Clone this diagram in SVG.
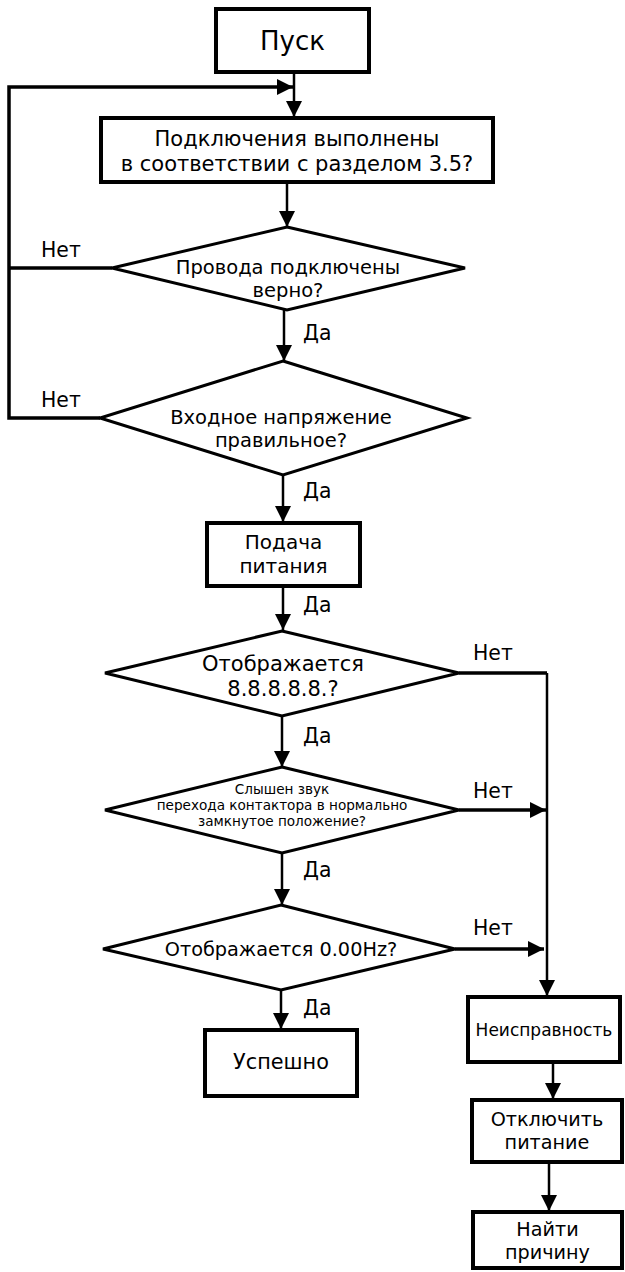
<svg xmlns="http://www.w3.org/2000/svg" width="625" height="1272" viewBox="0 0 625 1272">
<style>
.box{fill:#fff;stroke:#000;stroke-width:4}
.dia{fill:#fff;stroke:#000;stroke-width:3}
.t{font-family:"DejaVu Sans","Noto Sans",sans-serif;fill:#000;text-anchor:middle;font-size:19.5px}
.lbl{font-family:"DejaVu Sans","Noto Sans",sans-serif;fill:#000;font-size:20.4px}
.c{fill:none;stroke:#000;stroke-width:2.5}
.cb{fill:none;stroke:#000;stroke-width:3.5}
</style>
<defs>
<marker id="ah" markerWidth="16" markerHeight="16" refX="16" refY="8" orient="auto" markerUnits="userSpaceOnUse"><path d="M0,0 L16,8 L0,16 z" fill="#000"/></marker>
</defs>
<g id="connectors">
<path class="c" d="M294,73 V117" marker-end="url(#ah)"/>
<path class="cb" d="M112,268 H9"/>
<path class="cb" d="M100,418 H9 V87 H293" marker-end="url(#ah)"/>
<path class="c" d="M287,183 V227" marker-end="url(#ah)"/>
<path class="c" d="M284,310 V361" marker-end="url(#ah)"/>
<path class="c" d="M283,475 V522" marker-end="url(#ah)"/>
<path class="c" d="M283,587 V630" marker-end="url(#ah)"/>
<path class="c" d="M282,716 V767" marker-end="url(#ah)"/>
<path class="c" d="M282,853 V905" marker-end="url(#ah)"/>
<path class="c" d="M281,990 V1029" marker-end="url(#ah)"/>
<path class="cb" d="M459,673 H547"/>
<path class="c" d="M547,673 V996" marker-end="url(#ah)"/>
<path class="cb" d="M459,810 H546" marker-end="url(#ah)"/>
<path class="cb" d="M455,949 H544" marker-end="url(#ah)"/>
<path class="c" d="M553,1063 V1099" marker-end="url(#ah)"/>
<path class="c" d="M549,1162 V1211" marker-end="url(#ah)"/>
<text class="lbl" x="41" y="257">Нет</text>
<text class="lbl" x="41" y="407">Нет</text>
<text class="lbl" x="303" y="340">Да</text>
<text class="lbl" x="303" y="498">Да</text>
<text class="lbl" x="303" y="612">Да</text>
<text class="lbl" x="303" y="743">Да</text>
<text class="lbl" x="303" y="877">Да</text>
<text class="lbl" x="303" y="1015">Да</text>
<text class="lbl" x="473" y="660">Нет</text>
<text class="lbl" x="473" y="798">Нет</text>
<text class="lbl" x="473" y="935">Нет</text>
</g>
<g id="start">
<rect class="box" x="216" y="9" width="153" height="63"/>
<text class="t" x="292.5" y="50" style="font-size:26px">Пуск</text>
</g>
<g id="check-connections">
<rect class="box" x="101" y="118" width="392" height="64"/>
<text class="t" x="297" y="146" style="font-size:21px">Подключения выполнены</text>
<text class="t" x="297" y="170.5" style="font-size:21px">в соответствии с разделом 3.5?</text>
</g>
<g id="wires-ok">
<polygon class="dia" points="287,227 465,268 287,310 112,268"/>
<text class="t" x="288" y="274">Провода подключены</text>
<text class="t" x="288" y="297">верно?</text>
</g>
<g id="voltage-ok">
<polygon class="dia" points="283,361 467,418 283,475 100,418"/>
<text class="t" x="281" y="424">Входное напряжение</text>
<text class="t" x="281" y="447">правильное?</text>
</g>
<g id="power-on">
<rect class="box" x="207" y="523" width="153" height="63"/>
<text class="t" x="283.5" y="549" style="font-size:20px">Подача</text>
<text class="t" x="283.5" y="572.5" style="font-size:20px">питания</text>
</g>
<g id="display-8">
<polygon class="dia" points="282,631 459,673 282,716 105,673"/>
<text class="t" x="283" y="671" style="font-size:21px">Отображается</text>
<text class="t" x="283" y="695.5" style="font-size:21px">8.8.8.8.8.?</text>
</g>
<g id="contactor">
<polygon class="dia" points="282,767 459,810 282,853 105,810"/>
<text class="t" x="282" y="794" style="font-size:13.6px">Слышен звук</text>
<text class="t" x="282" y="810" style="font-size:13.6px">перехода контактора в нормально</text>
<text class="t" x="282" y="826" style="font-size:13.6px">замкнутое положение?</text>
</g>
<g id="display-hz">
<polygon class="dia" points="281,905 455,949 281,990 103,949"/>
<text class="t" x="281" y="956" style="font-size:19.3px">Отображается 0.00Hz?</text>
</g>
<g id="success">
<rect class="box" x="205" y="1030" width="152" height="66"/>
<text class="t" x="281" y="1069" style="font-size:20.8px">Успешно</text>
</g>
<g id="fault">
<rect class="box" x="468" y="997" width="152" height="65"/>
<text class="t" x="544" y="1036" style="font-size:17px">Неисправность</text>
</g>
<g id="power-off">
<rect class="box" x="472" y="1100" width="150" height="62"/>
<text class="t" x="547" y="1126" style="font-size:19.2px">Отключить</text>
<text class="t" x="547" y="1148.5" style="font-size:19.2px">питание</text>
</g>
<g id="find-cause">
<rect class="box" x="473" y="1212" width="149" height="56"/>
<text class="t" x="547.5" y="1236" style="font-size:19.2px">Найти</text>
<text class="t" x="547.5" y="1258.5" style="font-size:19.2px">причину</text>
</g>
</svg>
